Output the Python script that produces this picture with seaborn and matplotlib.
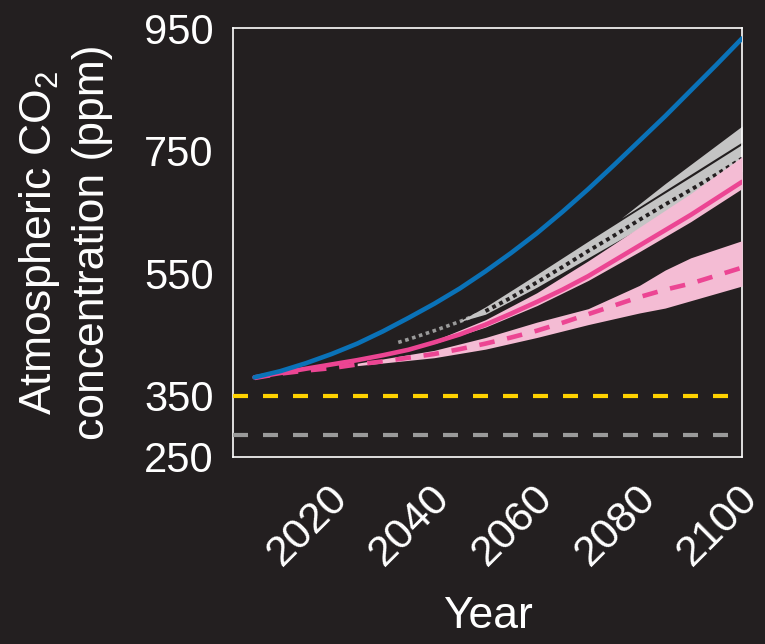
import numpy as np
import pandas as pd
import seaborn as sns
import matplotlib.pyplot as plt
from matplotlib.transforms import ScaledTranslation

years5 = [2005, 2010, 2015, 2020, 2025, 2030, 2035, 2040, 2045, 2050, 2055,
          2060, 2065, 2070, 2075, 2080, 2085, 2090, 2095, 2100]

# blue scenario (highest)
blue_ppm = [380, 390, 403, 418, 435, 455, 477, 500, 525, 553, 583,
            615, 650, 687, 726, 766, 806, 848, 890, 933]

# pink solid scenario
pink_ppm = [380, 387, 394, 401, 408, 416, 425, 437, 450, 466, 484,
            503, 523, 545, 570, 595, 620, 645, 672, 699]

# pink dashed scenario
dash_ppm = [379, 386, 391, 395, 401, 406, 412, 418, 426, 435, 445,
            456, 469, 483, 497, 511, 523, 533, 546, 559]

# gray dotted scenario + bands
gray_years = [2033, 2035, 2040, 2045, 2050, 2055, 2060, 2065, 2070, 2075, 2080,
              2085, 2090, 2095, 2100]
gray_ppm = [437, 442, 456, 471, 488, 510, 535, 560, 586, 611, 637,
            662, 686, 711, 737]
gray_band_years = [2045, 2050, 2060, 2070, 2080, 2090, 2100]
gray_band_low = [471, 483, 527, 575, 623, 669, 716]
gray_band_high = [472, 495, 548, 602, 655, 707, 760]
wedge_years = [2076.5, 2085, 2100]
wedge_low = [640, 685, 764]
wedge_high = [640, 696, 790]

# bands around the pink scenarios
pink_band_years = [2040, 2050, 2060, 2070, 2080, 2090, 2100]
pink_band_low = [435, 462, 497, 538, 585, 634, 688]
pink_band_high = [440, 474, 518, 570, 625, 680, 740]
dash_band_years = [2025, 2040, 2050, 2060, 2070, 2080, 2085, 2090, 2100]
dash_band_low = [399, 412, 426, 445, 466, 485, 493, 505, 529]
dash_band_high = [403, 424, 445, 470, 492, 530, 555, 575, 603]

# reference levels
target_ppm = 350
preindustrial_ppm = 286

x_ticks = [2020, 2040, 2060, 2080, 2100]
y_ticks = [250, 350, 550, 750, 950]

BG = '#231f20'
BLUE = '#0a72b8'
PINK = '#ec4593'
LPINK = '#f4bcd4'
LGRAY = '#c4c4c4'

sns.set_theme(style='dark', rc={'axes.facecolor': BG, 'figure.facecolor': BG,
                                 'axes.edgecolor': 'white', 'text.color': 'white',
                                 'axes.labelcolor': 'white', 'xtick.color': 'white',
                                 'ytick.color': 'white'})
plt.rcParams['font.family'] = ['Liberation Sans', 'DejaVu Sans']
plt.rcParams['mathtext.default'] = 'regular'

fig, ax = plt.subplots(figsize=(7.65, 6.44), dpi=100)
fig.subplots_adjust(left=0.3046, right=0.970, top=0.9565, bottom=0.2904)

# bands
ax.fill_between(gray_band_years, gray_band_low, gray_band_high, color=LGRAY, lw=0, zorder=2)
ax.fill_between(wedge_years, wedge_low, wedge_high, color=LGRAY, lw=0, zorder=2)
ax.fill_between(pink_band_years, pink_band_low, pink_band_high, color=LPINK, lw=0, zorder=4)
ax.fill_between(dash_band_years, dash_band_low, dash_band_high, color=LPINK, lw=0, zorder=4)

# reference lines
ax.axhline(target_ppm, color='#ffd200', lw=3, zorder=3).set_dashes((3.6, 3.6))
ax.axhline(preindustrial_ppm, color='#9a9a9a', lw=3, zorder=3).set_dashes((3.6, 3.6))

# gray dotted (gray on dark, dark on band)
gdf = pd.DataFrame({'year': gray_years, 'ppm': gray_ppm})
sns.lineplot(data=gdf, x='year', y='ppm', ax=ax, color='#9a9a9a', lw=2.6, zorder=1.5)
ax.lines[-1].set_dashes((1, 1))
sns.lineplot(data=gdf[gdf.year >= 2050], x='year', y='ppm', ax=ax, color=BG, lw=2.8, zorder=3)
ax.lines[-1].set_dashes((1, 1))

sns.lineplot(x=years5, y=pink_ppm, ax=ax, color=PINK, lw=3.3, zorder=5)
sns.lineplot(x=years5, y=dash_ppm, ax=ax, color=PINK, lw=3.3, zorder=5)
ax.lines[-1].set_dashes((3.4, 2.8))
sns.lineplot(x=years5, y=blue_ppm, ax=ax, color=BLUE, lw=3.3, zorder=6)

ax.set_xlim(2000.8, 2100)
ax.set_ylim(250, 950)
ax.set_xticks(x_ticks)
ax.set_yticks(y_ticks)
ax.tick_params(direction='in', length=9.5, width=1)
ax.tick_params(axis='y', labelsize=30, pad=14)
ax.tick_params(axis='x', labelsize=31, pad=15)
for s in ax.spines.values():
    s.set_color('white')
    s.set_linewidth(1.2)
ax.grid(False)

offset = ScaledTranslation(24 / 100, 0, fig.dpi_scale_trans)
for lab in ax.get_xticklabels():
    lab.set_rotation(45)
    lab.set_ha('right')
    lab.set_transform(lab.get_transform() + offset)

ax.set_xlabel('Year', fontsize=32, labelpad=16)
ax.set_ylabel('Atmospheric CO$_2$\nconcentration (ppm)', fontsize=32, linespacing=1.3)
ax.yaxis.set_label_coords(-0.236, 0.5)

fig.savefig('out.png', dpi=100, facecolor=BG)
